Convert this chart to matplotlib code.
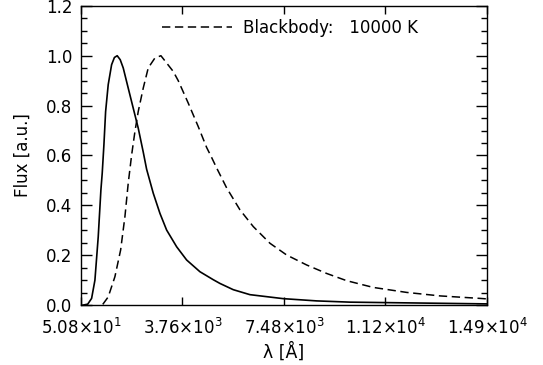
import matplotlib
matplotlib.use("Agg")
import matplotlib.pyplot as plt
from matplotlib.ticker import FixedLocator, MultipleLocator

plt.rcParams['font.family'] = 'DejaVu Sans'
plt.rcParams['mathtext.default'] = 'regular'
plt.rcParams['lines.scale_dashes'] = False

# wavelength [A] and normalised flux
wave_solid = [124, 300, 442, 563, 684, 782, 830, 892, 954, 1049, 1173, 1276, 1378,
              1488, 1598, 1781, 1963, 2146, 2329, 2453, 2695, 2940, 3185, 3551,
              3916, 4402, 4889, 5134, 5620, 6231, 7449, 8670, 9888, 14900]
flux_solid = [0.0, 0.004, 0.027, 0.100, 0.274, 0.462, 0.529, 0.643, 0.776, 0.884,
              0.964, 0.993, 1.0, 0.984, 0.951, 0.870, 0.790, 0.710, 0.614, 0.545,
              0.449, 0.368, 0.301, 0.234, 0.181, 0.134, 0.102, 0.087, 0.062,
              0.042, 0.026, 0.017, 0.012, 0.005]

wave_bb = [850, 1049, 1294, 1503, 1660, 1781, 1905, 2026, 2146, 2329, 2512, 2757,
           2976, 3426, 3609, 3975, 4340, 4648, 4830, 5013, 5379, 5866, 6352,
           6963, 7573, 8305, 9036, 9768, 10740, 11962, 13180, 14642, 14900]
flux_bb = [0.003, 0.033, 0.114, 0.221, 0.355, 0.489, 0.602, 0.696, 0.776, 0.870,
           0.951, 0.991, 1.0, 0.937, 0.900, 0.810, 0.716, 0.632, 0.592, 0.550,
           0.470, 0.382, 0.315, 0.248, 0.201, 0.161, 0.127, 0.098, 0.071, 0.051,
           0.037, 0.027, 0.025]

xticks = [50.8, 3762.1, 7474.3, 11186.6, 14900.0]
xticklabels = [r'5.08$\times$10$^{1}$', r'3.76$\times$10$^{3}$', r'7.48$\times$10$^{3}$',
               r'1.12$\times$10$^{4}$', r'1.49$\times$10$^{4}$']
yticks = [0.0, 0.2, 0.4, 0.6, 0.8, 1.0, 1.2]

fig = plt.figure(figsize=(5.43, 3.65), dpi=100)
ax = fig.add_axes([0.149, 0.164, 0.748, 0.820])

ax.plot(wave_solid, flux_solid, color='black', lw=1.2)
ax.plot(wave_bb, flux_bb, color='black', lw=1.1, dashes=(6, 3.3),
        label='Blackbody:   10000 K')

ax.set_xlim(xticks[0], xticks[-1])
ax.set_ylim(0.0, 1.2)
ax.xaxis.set_major_locator(FixedLocator(xticks))
ax.set_xticklabels(xticklabels)
ax.set_yticks(yticks)
ax.set_yticklabels(['%.1f' % v for v in yticks])
ax.yaxis.set_minor_locator(MultipleLocator(0.05))

ax.tick_params(which='both', direction='in', top=True, right=True, width=1.0,
               labelsize=12, colors='black')
ax.tick_params(which='major', length=6)
ax.tick_params(axis='y', which='major', length=8, pad=6)
ax.tick_params(axis='y', which='minor', length=4)
ax.tick_params(axis='x', pad=9)
for s in ax.spines.values():
    s.set_linewidth(1.0)

ax.set_xlabel(r'λ [Å]', fontsize=12.5, labelpad=3)
ax.set_ylabel('Flux [a.u.]', fontsize=12, labelpad=10)

ax.legend(loc='center left', bbox_to_anchor=(0.2, 0.926), frameon=False,
          borderpad=0, borderaxespad=0, handlelength=4.2, handletextpad=0.65,
          fontsize=12)

fig.savefig('out.png', dpi=100)
